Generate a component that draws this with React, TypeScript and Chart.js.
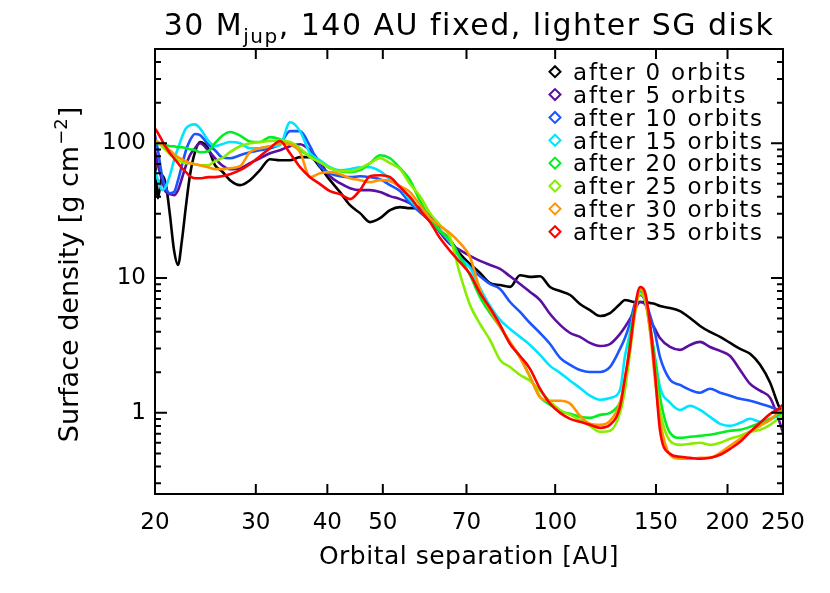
import React, { useEffect, useRef } from 'react';
import { Chart, registerables } from 'chart.js';

Chart.register(...registerables);

const FONT = '"DejaVu Sans", sans-serif';

// Orbital separation grid (AU)
const radiiAU = [
  20.0, 20.24, 20.57, 20.9, 21.24, 21.59, 21.94, 22.29, 22.66, 23.02,
  23.49, 23.97, 24.76, 25.46, 26.18, 27.04, 28.16, 29.3, 30.5, 31.76,
  33.06, 34.42, 35.84, 37.31, 38.84, 40.43, 42.09, 43.82, 45.62, 47.49,
  49.44, 51.47, 53.58, 55.78, 58.07, 60.45, 62.93, 65.52, 68.2, 71.0,
  73.92, 76.95, 80.11, 83.4, 86.82, 90.38, 94.09, 97.96, 102.0, 106.2,
  110.5, 115.0, 119.8, 124.7, 129.8, 132.4, 135.1, 137.9, 140.7, 143.5,
  146.4, 149.4, 152.4, 158.7, 165.2, 172.0, 179.1, 186.4, 194.1, 202.1,
  210.4, 219.0, 228.0, 237.4, 245.2, 250,
];

// Surface density [g cm^-2] per snapshot
const after0 = [
  74.8, 39.1, 57.9, 48.9, 29.3, 16.1, 12.5, 19.1, 34.7, 57.9,
  85.8, 102, 91.8, 68.7, 62.0, 53.2, 48.9, 53.2, 63.1, 76.1,
  74.8, 74.8, 78.8, 78.8, 66.4, 53.2, 43.4, 34.7, 30.3, 26.0,
  27.8, 31.9, 33.6, 33.0, 33.0, 28.3, 22.7, 19.1, 15.1, 12.7,
  10.9, 9.18, 8.87, 8.6, 10.5, 10.2, 10.3, 8.58, 8.01, 7.48,
  6.42, 5.79, 5.23, 5.5, 6.42, 6.87, 6.75, 6.64, 6.64, 6.64,
  6.53, 6.42, 6.2, 5.99, 5.69, 5.05, 4.41, 3.98, 3.66, 3.3,
  2.98, 2.74, 2.27, 1.67, 1.15, 0.983,
];
const after5 = [
  88.7, 68.7, 53.2, 43.4, 41.9, 41.2, 44.9, 55.0, 68.7, 81.5,
  91.8, 100, 88.7, 77.4, 68.7, 64.2, 65.3, 71.1, 77.4, 84.3,
  88.7, 95.0, 98.3, 88.7, 72.3, 56.9, 50.5, 46.4, 44.9, 44.9,
  43.4, 40.5, 38.5, 35.9, 33.0, 28.8, 21.9, 17.9, 16.1, 14.6,
  13.4, 12.5, 11.7, 10.3, 9.03, 7.88, 6.87, 5.41, 4.49, 3.91,
  3.66, 3.3, 3.13, 3.24, 3.85, 4.33, 4.97, 5.9, 6.64, 6.42,
  4.97, 4.19, 3.59, 3.08, 2.93, 3.19, 3.36, 3.08, 2.88, 2.64,
  2.08, 1.64, 1.46, 1.29, 0.918, 0.711,
];
const after10 = [
  115, 88.7, 57.9, 46.4, 42.6, 43.4, 53.2, 68.7, 88.7, 105,
  117, 115, 98.3, 88.7, 78.8, 77.4, 81.5, 85.8, 88.7, 91.8,
  98.3, 123, 123, 95.0, 67.5, 59.9, 56.9, 56.0, 56.9, 56.0,
  54.1, 48.9, 44.1, 35.9, 30.8, 26.4, 21.9, 18.5, 14.3, 12.1,
  10.3, 9.03, 8.29, 6.64, 5.6, 4.64, 3.91, 3.24, 2.56, 2.27,
  2.08, 2.01, 2.01, 2.19, 2.98, 3.59, 4.64, 6.53, 7.48, 6.87,
  5.32, 3.91, 2.6, 1.76, 1.61, 1.48, 1.41, 1.51, 1.41, 1.34,
  1.27, 1.23, 1.17, 1.11, 1.05, 1.02,
];
const after15 = [
  63.1, 53.2, 44.9, 48.0, 57.9, 74.8, 91.8, 111, 129, 136,
  138, 129, 105, 95.0, 98.3, 102, 100, 91.8, 91.8, 95.0,
  96.6, 143, 123, 84.3, 74.8, 66.4, 63.1, 64.2, 66.4, 66.4,
  62.0, 54.1, 47.2, 37.8, 31.9, 26.9, 22.7, 18.5, 14.1, 11.9,
  8.43, 6.2, 4.89, 4.19, 3.66, 3.19, 2.69, 2.23, 1.98, 1.73,
  1.53, 1.34, 1.25, 1.29, 1.48, 2.64, 3.91, 6.09, 7.88, 7.11,
  4.33, 2.6, 1.56, 1.19, 1.05, 1.13, 1.05, 0.934, 0.829, 0.801,
  0.843, 0.903, 0.858, 0.887, 0.95, 0.934,
];
const after20 = [
  100, 100, 96.6, 96.6, 95.0, 95.0, 93.4, 93.4, 91.8, 90.3,
  88.7, 85.8, 87.2, 100, 113, 121, 114, 103, 102, 111,
  107, 98.3, 88.7, 80.1, 72.3, 65.3, 62.0, 61.0, 63.1, 71.1,
  81.5, 77.4, 65.3, 53.2, 37.2, 27.8, 22.3, 19.1, 14.3, 10.5,
  7.23, 5.5, 4.34, 3.3, 2.6, 1.85, 1.31, 1.15, 1.03, 0.983,
  0.934, 0.918, 0.966, 1.0, 1.19, 1.56, 3.47, 6.09, 8.01, 7.23,
  4.49, 2.47, 1.31, 0.711, 0.653, 0.664, 0.675, 0.687, 0.711, 0.736,
  0.748, 0.788, 0.843, 0.903, 0.966, 0.983,
];
const after25 = [
  105, 102, 95.0, 88.7, 82.9, 78.8, 74.8, 72.3, 71.1, 71.1,
  69.9, 68.7, 68.7, 73.6, 77.4, 85.8, 95.0, 100, 102, 104,
  105, 102, 91.8, 78.8, 72.3, 65.3, 62.0, 62.0, 65.3, 71.1,
  77.4, 71.1, 64.2, 49.9, 40.5, 30.3, 24.7, 20.1, 10.7, 6.31,
  4.56, 3.47, 2.47, 2.19, 1.91, 1.73, 1.46, 1.21, 1.05, 0.966,
  0.887, 0.801, 0.723, 0.736, 1.0, 1.48, 2.78, 5.5, 7.61, 6.87,
  4.12, 2.08, 1.05, 0.62, 0.579, 0.589, 0.6, 0.579, 0.6, 0.642,
  0.675, 0.723, 0.748, 0.815, 0.903, 0.966,
];
const after30 = [
  105, 102, 98.3, 93.4, 88.7, 82.9, 78.8, 76.1, 73.6, 71.1,
  69.9, 68.7, 66.4, 64.2, 64.2, 65.3, 67.5, 85.8, 91.8, 95.0,
  100, 98.3, 85.8, 56.0, 59.9, 61.0, 58.9, 55.0, 53.2, 51.4,
  53.2, 52.3, 48.0, 43.4, 34.7, 27.8, 24.3, 21.5, 18.2, 14.3,
  8.15, 5.79, 4.34, 3.36, 2.56, 1.85, 1.31, 1.23, 1.23, 1.17,
  0.95, 0.829, 0.815, 0.873, 1.19, 1.81, 3.03, 5.6, 8.29, 7.23,
  4.12, 1.76, 0.887, 0.489, 0.456, 0.456, 0.464, 0.464, 0.505, 0.57,
  0.642, 0.723, 0.801, 0.887, 1.0, 1.05,
];
const after35 = [
  129, 119, 105, 93.4, 84.3, 77.4, 71.1, 65.3, 61.0, 56.9,
  55.0, 55.0, 56.0, 56.0, 56.9, 58.9, 63.1, 69.9, 80.1, 91.8,
  104, 84.3, 66.4, 56.0, 49.7, 44.1, 41.9, 38.5, 44.9, 56.9,
  57.9, 56.0, 47.2, 39.8, 31.9, 26.0, 19.8, 15.9, 13.1, 10.7,
  7.74, 5.99, 4.49, 3.24, 2.64, 2.12, 1.51, 1.17, 1.0, 0.903,
  0.858, 0.815, 0.774, 0.815, 1.11, 1.81, 3.08, 6.09, 8.58, 7.88,
  4.64, 1.98, 0.748, 0.497, 0.472, 0.464, 0.456, 0.464, 0.489, 0.541,
  0.61, 0.723, 0.843, 0.983, 1.07, 1.15,
];

const seriesValues = [after0, after5, after10, after15, after20, after25, after30, after35];
const seriesLabels = [
  'after 0 orbits', 'after 5 orbits', 'after 10 orbits', 'after 15 orbits',
  'after 20 orbits', 'after 25 orbits', 'after 30 orbits', 'after 35 orbits',
];
const seriesColors = [
  '#000000', '#5b0fa0', '#1a55ff', '#00e5ff', '#00ee22', '#88ee00', '#ff9400', '#ff0000',
];

const xTickValues = [20, 30, 40, 50, 70, 100, 150, 200, 250];
const yTickValues = [
  0.3, 0.4, 0.5, 0.6, 0.7, 0.8, 0.9,
  1, 2, 3, 4, 5, 6, 7, 8, 9,
  10, 20, 30, 40, 50, 60, 70, 80, 90,
  100, 200, 300, 400,
];
const yLabelValues = [1, 10, 100];

const titleMain = '30 M';
const titleSub = 'jup';
const titleRest = ', 140 AU fixed, lighter SG disk';
const xTitle = 'Orbital separation [AU]';
const yTitleMain = 'Surface density [g cm';
const yTitleSup = '\u22122';
const yTitleEnd = ']';

const setSpacing = (ctx: CanvasRenderingContext2D, v: string) => {
  (ctx as any).letterSpacing = v;
};

const idlFramePlugin = {
  id: 'idlFrame',
  afterDraw(chart: any) {
    const ctx: CanvasRenderingContext2D = chart.ctx;
    const { left, right, top, bottom } = chart.chartArea;
    const xs = chart.scales.x;
    const ys = chart.scales.y;
    ctx.save();
    ctx.strokeStyle = '#000';
    ctx.lineWidth = 2;
    ctx.lineCap = 'butt';
    ctx.strokeRect(left, top, right - left, bottom - top);

    ctx.beginPath();
    for (const t of xs.ticks) {
      const px = xs.getPixelForValue(t.value);
      if (px <= left + 1 || px >= right - 1) continue;
      ctx.moveTo(px, bottom);
      ctx.lineTo(px, bottom - 10);
      ctx.moveTo(px, top);
      ctx.lineTo(px, top + 10);
    }
    for (const t of ys.ticks) {
      const py = ys.getPixelForValue(t.value);
      if (py <= top + 1 || py >= bottom - 1) continue;
      const len = yLabelValues.includes(t.value) ? 12 : 6;
      ctx.moveTo(left, py);
      ctx.lineTo(left + len, py);
      ctx.moveTo(right, py);
      ctx.lineTo(right - len, py);
    }
    ctx.stroke();

    ctx.fillStyle = '#000';
    ctx.textAlign = 'left';
    ctx.textBaseline = 'alphabetic';

    // Title with subscript
    ctx.font = `30px ${FONT}`;
    setSpacing(ctx, '1.5px');
    const w1 = ctx.measureText(titleMain).width;
    const w3 = ctx.measureText(titleRest).width;
    ctx.font = `20px ${FONT}`;
    const w2 = ctx.measureText(titleSub).width;
    const tx = (left + right) / 2 - (w1 + w2 + w3) / 2;
    ctx.font = `30px ${FONT}`;
    ctx.fillText(titleMain, tx, 35);
    ctx.font = `20px ${FONT}`;
    ctx.fillText(titleSub, tx + w1, 43);
    ctx.font = `30px ${FONT}`;
    ctx.fillText(titleRest, tx + w1 + w2, 35);

    // X axis title
    ctx.font = `25px ${FONT}`;
    setSpacing(ctx, '0.5px');
    ctx.textAlign = 'center';
    ctx.fillText(xTitle, (left + right) / 2, 564);

    // Y axis title with superscript
    ctx.textAlign = 'left';
    ctx.save();
    ctx.translate(78, (top + bottom) / 2 + 4);
    ctx.rotate(-Math.PI / 2);
    ctx.font = `27px ${FONT}`;
    setSpacing(ctx, '0px');
    const ya = ctx.measureText(yTitleMain).width;
    const yc = ctx.measureText(yTitleEnd).width;
    ctx.font = `18px ${FONT}`;
    const yb = ctx.measureText(yTitleSup).width;
    const y0 = -(ya + yb + yc) / 2;
    ctx.font = `27px ${FONT}`;
    ctx.fillText(yTitleMain, y0, 0);
    ctx.font = `18px ${FONT}`;
    ctx.fillText(yTitleSup, y0 + ya + 1, -11);
    ctx.font = `27px ${FONT}`;
    ctx.fillText(yTitleEnd, y0 + ya + yb + 2, 0);
    ctx.restore();

    // Legend
    ctx.font = `23px ${FONT}`;
    setSpacing(ctx, '1.8px');
    chart.data.datasets.forEach((ds: any, i: number) => {
      const cy = 71.7 + i * 22.86;
      const cx = 555;
      ctx.strokeStyle = ds.borderColor;
      ctx.lineWidth = 2;
      ctx.beginPath();
      ctx.moveTo(cx - 5.5, cy);
      ctx.lineTo(cx, cy - 5.5);
      ctx.lineTo(cx + 5.5, cy);
      ctx.lineTo(cx, cy + 5.5);
      ctx.closePath();
      ctx.stroke();
      ctx.fillStyle = '#000';
      ctx.fillText(ds.label, 573, cy + 8.3);
    });
    setSpacing(ctx, '0px');
    ctx.restore();
  },
};

export default function App() {
  const canvasRef = useRef<HTMLCanvasElement | null>(null);

  useEffect(() => {
    const canvas = canvasRef.current;
    if (!canvas) return;
    const chart = new Chart(canvas, {
      type: 'line',
      data: {
        datasets: seriesValues.map((vals, i) => ({
          label: seriesLabels[i],
          data: radiiAU.map((x, j) => ({ x, y: vals[j] })),
          borderColor: seriesColors[i],
          backgroundColor: seriesColors[i],
          borderWidth: 2.6,
          pointRadius: 0,
          fill: false,
          cubicInterpolationMode: 'monotone' as const,
          order: seriesValues.length - i,
        })),
      },
      options: {
        responsive: false,
        animation: false,
        devicePixelRatio: 1,
        layout: { padding: { top: 49, right: 47, left: 0, bottom: 0 } },
        plugins: {
          legend: { display: false },
          title: { display: false },
          tooltip: { enabled: false },
        },
        scales: {
          x: {
            type: 'logarithmic',
            min: 20,
            max: 250,
            grid: { display: false, drawTicks: false },
            border: { display: false },
            ticks: {
              autoSkip: false,
              maxRotation: 0,
              minRotation: 0,
              padding: 15,
              color: '#000',
              font: { family: FONT, size: 23 },
              callback: (v: any) => (xTickValues.includes(Number(v)) ? String(v) : ''),
            },
            afterBuildTicks: (s: any) => {
              s.ticks = xTickValues.map((v) => ({ value: v }));
            },
            afterFit: (s: any) => {
              s.height = 99;
            },
          },
          y: {
            type: 'logarithmic',
            min: 0.25,
            max: 500,
            grid: { display: false, drawTicks: false },
            border: { display: false },
            ticks: {
              autoSkip: false,
              padding: 9,
              color: '#000',
              font: { family: FONT, size: 23 },
              callback: (v: any) => (yLabelValues.includes(Number(v)) ? String(v) : ''),
            },
            afterBuildTicks: (s: any) => {
              s.ticks = yTickValues.map((v) => ({ value: v }));
            },
            afterFit: (s: any) => {
              s.width = 155;
            },
          },
        },
      },
      plugins: [idlFramePlugin],
    } as any);
    return () => chart.destroy();
  }, []);

  return (
    <div style={{ position: 'absolute', left: 0, top: 0, width: 830, height: 593, background: '#fff' }}>
      <canvas ref={canvasRef} width={830} height={593} style={{ display: 'block' }} />
    </div>
  );
}
